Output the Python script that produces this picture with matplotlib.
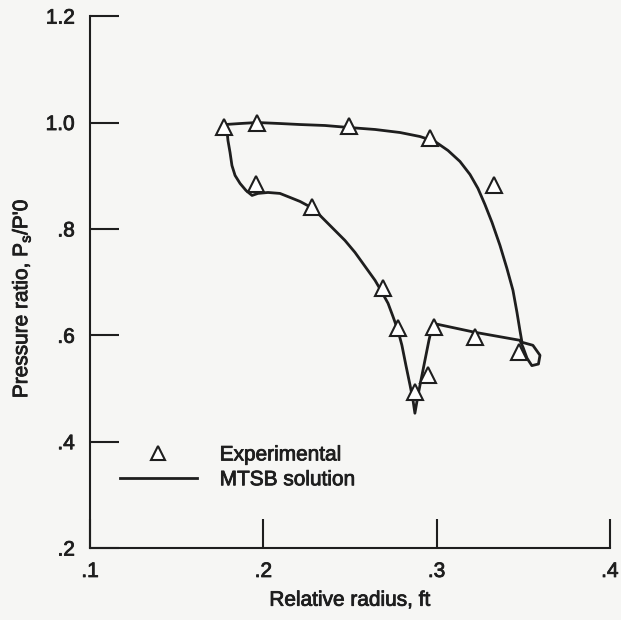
import numpy as np
import matplotlib
matplotlib.use("Agg")
import matplotlib.pyplot as plt
import matplotlib.patheffects as pe
from matplotlib.lines import Line2D

plt.rcParams['font.family'] = ['Liberation Sans', 'DejaVu Sans']

# Experimental points (triangles)
exp_r = [0.1773, 0.1964, 0.2495, 0.2962, 0.3330, 0.3476, 0.3222, 0.2985,
         0.2950, 0.2875, 0.2777, 0.2690, 0.2281, 0.1958]
exp_p = [0.991, 1.000, 0.994, 0.970, 0.882, 0.568, 0.596, 0.615,
         0.525, 0.493, 0.613, 0.688, 0.842, 0.885]

# MTSB solution, traced as one closed path (top, right side, loop,
# lower branch, dip, back up the left branch)
mtsb_r = [0.1779, 0.1866, 0.1964, 0.2096, 0.2212, 0.2356, 0.2495, 0.2645,
          0.2789, 0.2904, 0.2991, 0.3066, 0.3135, 0.3193, 0.3239, 0.3279,
          0.3320, 0.3366, 0.3406, 0.3441, 0.3464, 0.3481, 0.3493,
          0.3556, 0.3597, 0.3588, 0.3550, 0.3522, 0.3499, 0.3481,
          0.3222, 0.2979,
          0.2956, 0.2933, 0.2910, 0.2893, 0.2875,
          0.2864, 0.2847, 0.2823, 0.2800, 0.2777, 0.2748, 0.2720, 0.2685,
          0.2645, 0.2587, 0.2529, 0.2471, 0.2402, 0.2327, 0.2287, 0.2212,
          0.2154, 0.2096, 0.2027, 0.1969, 0.1935, 0.1900, 0.1866, 0.1837,
          0.1819, 0.1808, 0.1796, 0.1791, 0.1779]
mtsb_p = [0.9962, 0.9981, 1.0000, 0.9981, 0.9962, 0.9944, 0.9906, 0.9869,
          0.9812, 0.9737, 0.9643, 0.9474, 0.9268, 0.9023, 0.8761, 0.8460,
          0.8122, 0.7690, 0.7258, 0.6845, 0.6432, 0.6094, 0.5869,
          0.5812, 0.5624, 0.5460, 0.5430, 0.5570, 0.5775, 0.5906,
          0.6056, 0.6225,
          0.5906, 0.5531, 0.5155, 0.4873, 0.4535,
          0.4779, 0.5061, 0.5437, 0.5812, 0.6094, 0.6357, 0.6601, 0.6808,
          0.7033, 0.7296, 0.7559, 0.7784, 0.8009, 0.8254, 0.8385, 0.8516,
          0.8592, 0.8667, 0.8685, 0.8667, 0.8629, 0.8723, 0.8854, 0.9005,
          0.9192, 0.9437, 0.9662, 0.9831, 0.9962]

x_ticks = [0.1, 0.2, 0.3, 0.4]
x_labels = ['.1', '.2', '.3', '.4']
y_ticks = [0.2, 0.4, 0.6, 0.8, 1.0, 1.2]
y_labels = ['.2', '.4', '.6', '.8', '1.0', '1.2']

ink = '#1e1e1e'
bg = '#f6f6f4'
fs = 15
heavy = [pe.withStroke(linewidth=0.6, foreground=ink)]

fig = plt.figure(figsize=(6.21, 6.2), dpi=100, facecolor=bg)
ax = fig.add_axes([0.145, 0.116, 0.837, 0.858], facecolor=bg)

ax.plot(mtsb_r, mtsb_p, color=ink, linewidth=2.0, solid_joinstyle='round')
ax.plot(exp_r, exp_p, linestyle='none', marker='^', markersize=12,
        markerfacecolor='white', markeredgecolor=ink, markeredgewidth=1.5)

ax.set_xlim(0.1, 0.4)
ax.set_ylim(0.2, 1.2)
ax.set_xticks(x_ticks)
ax.set_xticklabels(x_labels)
ax.set_yticks(y_ticks)
ax.set_yticklabels(y_labels)

for s in ['top', 'right']:
    ax.spines[s].set_visible(False)
for s in ['left', 'bottom']:
    ax.spines[s].set_linewidth(1.5)
    ax.spines[s].set_color(ink)

ax.tick_params(direction='in', length=21, width=1.5, color=ink,
               labelsize=fs, labelcolor=ink)
ax.tick_params(axis='x', pad=10)
ax.tick_params(axis='y', pad=11)
for lab in ax.get_xticklabels() + ax.get_yticklabels():
    lab.set_path_effects(heavy)

xl = ax.set_xlabel('Relative radius, ft', fontsize=fs, color=ink, labelpad=7)
yl = ax.set_ylabel(r"Pressure ratio, P$_\mathregular{s}$/P'0", fontsize=fs,
                   color=ink)
ax.yaxis.set_label_coords(-0.11, 0.47)
xl.set_path_effects(heavy)
yl.set_path_effects(heavy)

handles = [
    Line2D([], [], linestyle='none', marker='^', markersize=10,
           markerfacecolor='white', markeredgecolor=ink, markeredgewidth=1.5),
    Line2D([], [], color=ink, linewidth=2.0),
]
leg = ax.legend(handles, ['Experimental', 'MTSB solution'], loc='upper left',
                bbox_to_anchor=(0.057, 0.193), frameon=False, fontsize=fs,
                handlelength=3.7, handletextpad=1.1, borderpad=0,
                borderaxespad=0, labelspacing=0.28, labelcolor=ink)
for t in leg.get_texts():
    t.set_path_effects(heavy)

fig.savefig('out.png', dpi=100, facecolor=bg)
